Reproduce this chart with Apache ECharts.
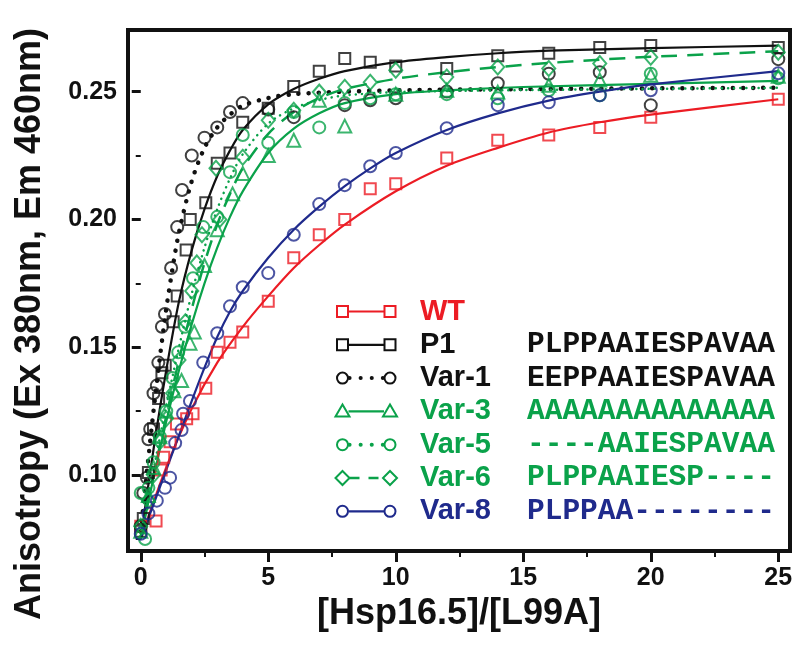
<!DOCTYPE html>
<html><head><meta charset="utf-8">
<script src="https://cdn.jsdelivr.net/npm/echarts@6/dist/echarts.min.js"></script>
<style>html,body{margin:0;padding:0;background:#fff}#c{width:800px;height:655px}</style>
</head><body><div id="c"></div>
<script>
// ---- axis ticks ----
const xTicks = [0, 5, 10, 15, 20, 25];
const xMinorTicks = [2.5, 7.5, 12.5, 17.5, 22.5];
const yTicks = [0.10, 0.15, 0.20, 0.25];
const yMinorTicks = [0.075, 0.125, 0.175, 0.225];
const xTitle = '[Hsp16.5]/[L99A]';
const yTitle = 'Anisotropy (Ex 380nm, Em 460nm)';

// ---- series names & sequences ----
const seriesNames = ['WT', 'P1', 'Var-1', 'Var-3', 'Var-5', 'Var-6', 'Var-8'];
const sequences = ['', 'PLPPAAIESPAVAA', 'EEPPAAIESPAVAA', 'AAAAAAAAAAAAAA', '----AAIESPAVAA', 'PLPPAAIESP----', 'PLPPAA--------'];

// ---- measured points [x, anisotropy] ----
const wtPoints = [[0,0.080],[0.6,0.082],[0.8,0.102],[0.9,0.107],[1.15,0.113],[1.4,0.120],[1.8,0.122],[2.05,0.124],[2.55,0.134],[3,0.148],[3.5,0.152],[4,0.156],[5,0.168],[6,0.185],[7,0.194],[8,0.200],[9,0.212],[10,0.214],[12,0.224],[14,0.231],[16,0.233],[18,0.236],[20,0.240],[25,0.247]];
const p1Points = [[0,0.078],[0.1,0.083],[0.3,0.101],[0.5,0.118],[0.7,0.130],[0.83,0.140],[0.96,0.143],[1.27,0.160],[1.43,0.170],[1.78,0.188],[1.94,0.200],[2.55,0.2065],[3,0.222],[3.5,0.226],[4,0.238],[5,0.2435],[6,0.252],[7,0.258],[8,0.263],[9,0.2615],[10,0.260],[12,0.259],[14,0.264],[16,0.265],[18,0.2673],[20,0.268],[25,0.2673]];
const var1Points = [[0,0.080],[0.1,0.093],[0.24,0.099],[0.3,0.114],[0.37,0.118],[0.5,0.132],[0.63,0.135],[0.69,0.144],[0.83,0.158],[0.95,0.163],[1.19,0.181],[1.43,0.197],[1.62,0.2115],[2,0.225],[2.5,0.232],[3,0.236],[3.5,0.242],[4,0.2455],[5,0.243],[6,0.240],[8,0.2447],[9,0.2466],[10,0.2474],[12,0.250],[14,0.2533],[16,0.257],[18,0.2576],[20,0.2447],[25,0.2627]];
const var3Points = [[0,0.078],[0.3,0.092],[0.5,0.103],[0.75,0.115],[1,0.125],[1.3,0.133],[1.6,0.137],[1.93,0.1516],[2.1,0.156],[2.5,0.182],[3,0.196],[3.6,0.210],[4,0.218],[5,0.225],[6,0.231],[7,0.2466],[8,0.2365],[10,0.249],[12,0.2505],[14,0.2498],[16,0.2525],[18,0.2545],[20,0.2564],[25,0.256]];
const var5Points = [[0,0.093],[0.17,0.075],[0.3,0.095],[0.5,0.105],[0.75,0.115],[1,0.125],[1.25,0.138],[1.47,0.148],[1.74,0.158],[2.05,0.177],[2.45,0.197],[3,0.201],[3.5,0.2185],[4,0.233],[5,0.230],[6,0.242],[7,0.236],[8,0.2455],[9,0.2474],[10,0.249],[12,0.249],[14,0.2474],[16,0.2505],[18,0.2486],[20,0.257],[25,0.2552]];
const var6Points = [[0,0.080],[0.3,0.090],[0.5,0.100],[0.75,0.113],[1,0.122],[1.25,0.132],[1.5,0.145],[1.75,0.160],[2,0.172],[2.2,0.183],[2.4,0.194],[2.95,0.220],[3.1,0.200],[4,0.2243],[5,0.2388],[6,0.2427],[7,0.2498],[8,0.2517],[9,0.2537],[10,0.2584],[12,0.2557],[14,0.2596],[16,0.259],[18,0.261],[20,0.2634],[25,0.2654]];
const var8Points = [[0,0.077],[0.3,0.085],[0.63,0.090],[0.95,0.095],[1.15,0.099],[1.35,0.1125],[1.6,0.1176],[1.66,0.124],[1.93,0.129],[2.45,0.144],[3,0.1555],[3.5,0.166],[4,0.1735],[5,0.179],[6,0.194],[7,0.206],[8,0.2134],[9,0.2208],[10,0.226],[12,0.2357],[14,0.2447],[16,0.2458],[18,0.2486],[20,0.2505],[25,0.2572]];

// ---- fitted curves ----
const wtFit = [[0,0.075],[1,0.103],[2,0.126],[3,0.144],[4,0.158],[5,0.170],[6,0.181],[7,0.190],[8,0.198],[10,0.211],[12,0.221],[14,0.228],[16,0.234],[18,0.238],[20,0.241],[25,0.247]];
const p1Fit = [[0,0.075],[0.5,0.110],[1,0.141],[1.5,0.168],[2,0.188],[2.5,0.204],[3,0.217],[3.5,0.227],[4,0.235],[5,0.245],[6,0.251],[7,0.255],[8,0.258],[10,0.2615],[12,0.2635],[14,0.265],[16,0.266],[20,0.267],[25,0.268]];
const var1Fit = [[0,0.078],[0.25,0.102],[0.5,0.125],[0.75,0.146],[1,0.165],[1.25,0.181],[1.5,0.195],[2,0.215],[2.5,0.228],[3,0.236],[3.5,0.241],[4,0.2445],[5,0.2475],[6,0.249],[8,0.250],[10,0.2505],[15,0.251],[25,0.2515]];
const var3Fit = [[0,0.075],[0.5,0.099],[1,0.121],[1.5,0.141],[2,0.159],[2.5,0.175],[3,0.189],[3.5,0.201],[4,0.211],[5,0.226],[6,0.2355],[7,0.2415],[8,0.2455],[10,0.249],[12,0.2505],[15,0.2518],[20,0.253],[25,0.2542]];
const var5Fit = [[0,0.076],[0.5,0.102],[1,0.127],[1.5,0.150],[2,0.171],[2.5,0.189],[3,0.204],[3.5,0.216],[4,0.2255],[5,0.2375],[6,0.2435],[7,0.2467],[8,0.2485],[10,0.2498],[15,0.2506],[25,0.2515]];
const var6Fit = [[0,0.077],[0.5,0.100],[1,0.123],[1.5,0.145],[2,0.165],[2.5,0.183],[3,0.198],[3.5,0.210],[4,0.220],[5,0.2335],[6,0.242],[7,0.2475],[8,0.251],[10,0.255],[12,0.2576],[14,0.2596],[16,0.2612],[18,0.2625],[20,0.2636],[25,0.2658]];
const var8Fit = [[0,0.075],[1,0.102],[2,0.129],[2.5,0.142],[3,0.154],[3.5,0.164],[4,0.172],[5,0.185],[6,0.196],[7,0.205],[8,0.213],[9,0.220],[10,0.226],[12,0.235],[14,0.2415],[16,0.2465],[18,0.250],[20,0.2528],[25,0.258]];

// ---- styling ----
const RED = '#ec1c24', BLACK = '#111111', GREEN = '#0aa24a', BLUE = '#1f2a8c';
const styles = [
  {color: RED,   symbol: 'rect',     size: 11, line: 'solid'},
  {color: BLACK, symbol: 'rect',     size: 11, line: 'solid'},
  {color: BLACK, symbol: 'circle',   size: 12, line: 'dotBig'},
  {color: GREEN, symbol: 'triangle', size: 13, line: 'solid'},
  {color: GREEN, symbol: 'circle',   size: 12, line: 'dotSmall'},
  {color: GREEN, symbol: 'diamond',  size: [13, 15], line: 'dashed'},
  {color: BLUE,  symbol: 'circle',   size: 12, line: 'solid'}
];
const allPoints = [wtPoints, p1Points, var1Points, var3Points, var5Points, var6Points, var8Points];
const allFits = [wtFit, p1Fit, var1Fit, var3Fit, var5Fit, var6Fit, var8Fit];

function lineStyleFor(st) {
  if (st.line === 'dotBig') return {color: st.color, width: 4.5, type: [0.1, 10], cap: 'round'};
  if (st.line === 'dotSmall') return {color: st.color, width: 2.5, type: [0.1, 6], cap: 'round'};
  if (st.line === 'dashed') return {color: st.color, width: 2.5, type: [16, 10]};
  return {color: st.color, width: 2.2};
}

const series = [];
allFits.forEach((fit, i) => {
  series.push({
    name: seriesNames[i] + ' fit', type: 'line', data: fit, smooth: 0.3,
    showSymbol: false, symbol: 'none', lineStyle: lineStyleFor(styles[i]), z: 2, silent: true
  });
});
allPoints.forEach((pts, i) => {
  const st = styles[i];
  series.push({
    name: seriesNames[i], type: 'scatter', data: pts, symbol: st.symbol, symbolSize: st.size,
    itemStyle: {color: 'rgba(255,255,255,0)', borderColor: st.color, borderWidth: 2}, z: 3
  });
});

// ---- legend drawn with graphic elements ----
const graphic = [];
const lx1 = 342.5, lx2 = 390, nameX = 420, seqX = 527, row0 = 311.5, rowStep = 33.3;
function symbolGraphic(st, cx, cy) {
  const s = {fill: 'rgba(255,255,255,0)', stroke: st.color, lineWidth: 2};
  if (st.symbol === 'rect') return {type: 'rect', shape: {x: cx - 5.5, y: cy - 5.5, width: 11, height: 11}, style: s};
  if (st.symbol === 'circle') return {type: 'circle', shape: {cx: cx, cy: cy, r: 5.5}, style: s};
  if (st.symbol === 'triangle') return {type: 'polygon', shape: {points: [[cx, cy - 7], [cx + 7, cy + 5], [cx - 7, cy + 5]]}, style: s};
  return {type: 'polygon', shape: {points: [[cx, cy - 7], [cx + 7, cy], [cx, cy + 7], [cx - 7, cy]]}, style: s};
}
seriesNames.forEach((nm, i) => {
  const st = styles[i];
  const cy = row0 + i * rowStep;
  const ls = lineStyleFor(st);
  const lstyle = {stroke: st.color, lineWidth: ls.width};
  let x1 = lx1 + 6, x2 = lx2 - 6;
  if (st.line === 'dotBig' || st.line === 'dotSmall') { lstyle.lineDash = [0.1, 11]; lstyle.lineCap = 'round'; lstyle.lineWidth = 4; x1 = lx1 + 7; x2 = lx2 - 5; }
  if (st.line === 'dashed') { lstyle.lineDash = [10, 9]; x1 = lx1 + 7; x2 = lx2 - 6; }
  graphic.push({type: 'line', shape: {x1: x1, y1: cy, x2: x2, y2: cy}, style: lstyle, z: 10});
  graphic.push(Object.assign(symbolGraphic(st, lx1, cy), {z: 11}));
  graphic.push(Object.assign(symbolGraphic(st, lx2, cy), {z: 11}));
  graphic.push({type: 'text', x: nameX, y: cy, z: 11, style: {text: nm, fill: st.color, font: 'bold 29px "Liberation Sans", Arial, sans-serif', verticalAlign: 'middle', align: 'left'}});
  if (sequences[i]) {
    graphic.push({type: 'text', x: seqX, y: cy, z: 11, style: {text: sequences[i], fill: st.color, font: 'bold 29.5px "Liberation Mono", "Courier New", monospace', verticalAlign: 'middle', align: 'left'}});
  }
});
graphic.push({type: 'text', x: 30, y: 324, rotation: Math.PI / 2, z: 11,
  style: {text: yTitle, fill: BLACK, font: 'bold 36px "Liberation Sans", Arial, sans-serif', align: 'center', verticalAlign: 'middle'}});

const labelFont = {fontSize: 25, fontWeight: 'bold', color: BLACK, fontFamily: '"Liberation Sans", Arial, sans-serif'};
const X_MIN = -0.5, X_MAX = 25.46, Y_MIN = 0.0703, Y_MAX = 0.2741;

const option = {
  animation: false,
  backgroundColor: '#ffffff',
  grid: {left: 128, right: 10, top: 30, bottom: 104, show: true, borderColor: BLACK, borderWidth: 4, backgroundColor: 'rgba(0,0,0,0)'},
  xAxis: [
    {type: 'value', min: X_MIN, max: X_MAX, position: 'bottom', splitLine: {show: false}, axisLine: {show: false},
     axisTick: {show: true, customValues: xTicks, length: 11, lineStyle: {color: BLACK, width: 3}},
     axisLabel: Object.assign({customValues: xTicks, margin: 15, formatter: v => String(v)}, labelFont),
     name: xTitle, nameLocation: 'middle', nameGap: 44,
     nameTextStyle: {fontSize: 36, fontWeight: 'bold', color: BLACK, fontFamily: '"Liberation Sans", Arial, sans-serif'}},
    {type: 'value', min: X_MIN, max: X_MAX, position: 'bottom', splitLine: {show: false}, axisLine: {show: false},
     axisTick: {show: true, customValues: xMinorTicks, length: 6, lineStyle: {color: BLACK, width: 2}},
     axisLabel: {show: false}}
  ],
  yAxis: [
    {type: 'value', min: Y_MIN, max: Y_MAX, position: 'left', splitLine: {show: false}, axisLine: {show: false},
     axisTick: {show: true, customValues: yTicks, length: 9, lineStyle: {color: BLACK, width: 3}},
     axisLabel: Object.assign({customValues: yTicks, margin: 11, formatter: v => v.toFixed(2)}, labelFont)},
    {type: 'value', min: Y_MIN, max: Y_MAX, position: 'left', splitLine: {show: false}, axisLine: {show: false},
     axisTick: {show: true, customValues: yMinorTicks, length: 5, lineStyle: {color: BLACK, width: 2}},
     axisLabel: {show: false}}
  ],
  series: series,
  graphic: graphic
};
const chart = echarts.init(document.getElementById('c'), null, {renderer: 'canvas'});
chart.setOption(option);
</script></body></html>
